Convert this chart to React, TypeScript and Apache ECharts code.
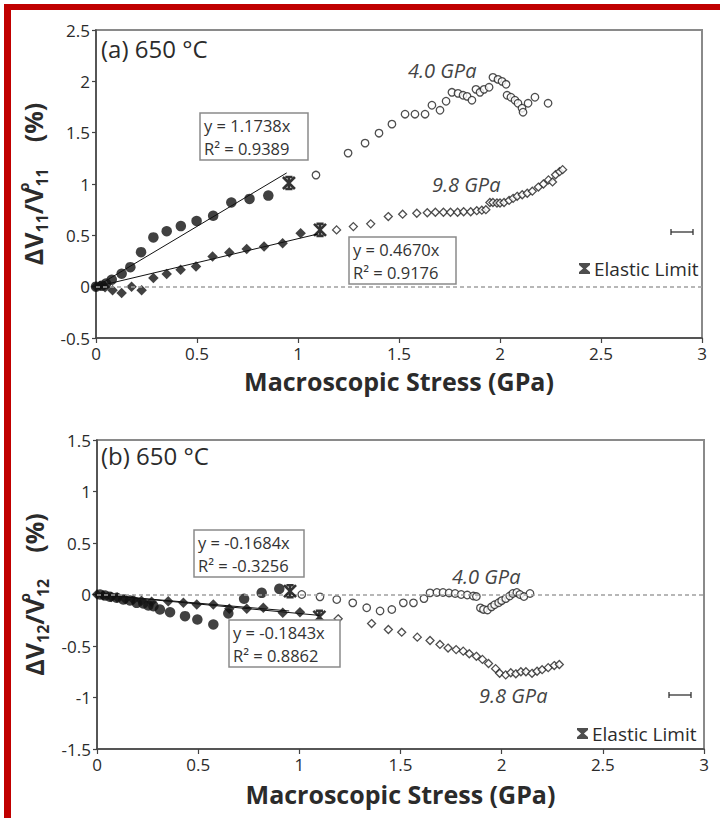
import React, { useEffect, useRef } from "react";
import * as echarts from "echarts";

// ---------- data (GPa, %) ----------
const xMin = 0, xMax = 3, xStep = 0.5;
const topYMin = -0.5, topYMax = 2.5;
const botYMin = -1.5, botYMax = 1.5;

// panel (a): dV11/V11
const a40Filled = [[0.0, 0.0], [0.03, 0.01], [0.05, 0.03], [0.078, 0.068], [0.127, 0.126], [0.17, 0.19], [0.223, 0.336], [0.284, 0.48], [0.35, 0.54], [0.42, 0.59], [0.498, 0.64], [0.58, 0.69], [0.67, 0.82], [0.76, 0.855], [0.853, 0.887]];
const a98Filled = [[0.0, 0.0], [0.02, 0.01], [0.045, -0.005], [0.082, -0.035], [0.127, -0.061], [0.176, 0.0], [0.226, -0.035], [0.284, 0.084], [0.35, 0.123], [0.419, 0.165], [0.495, 0.197], [0.577, 0.294], [0.66, 0.333], [0.746, 0.366], [0.832, 0.392], [0.924, 0.424], [1.013, 0.521]];
const a40Open = [[1.089, 1.087], [1.248, 1.301], [1.332, 1.398], [1.401, 1.495], [1.465, 1.583], [1.53, 1.68], [1.579, 1.68], [1.629, 1.68], [1.663, 1.767], [1.703, 1.718], [1.733, 1.806], [1.762, 1.893], [1.792, 1.883], [1.817, 1.864], [1.837, 1.854], [1.861, 1.816], [1.881, 1.922], [1.901, 1.893], [1.921, 1.922], [1.946, 1.942], [1.965, 2.039], [1.99, 2.019], [2.01, 2.0], [2.03, 1.971], [2.035, 1.864], [2.054, 1.845], [2.074, 1.816], [2.089, 1.786], [2.109, 1.738], [2.114, 1.699], [2.139, 1.786], [2.173, 1.845], [2.238, 1.786]];
const a98Open = [[1.191, 0.553], [1.274, 0.585], [1.36, 0.612], [1.447, 0.683], [1.518, 0.706], [1.588, 0.715], [1.64, 0.72], [1.68, 0.725], [1.72, 0.725], [1.755, 0.725], [1.79, 0.725], [1.82, 0.73], [1.855, 0.73], [1.885, 0.74], [1.91, 0.745], [1.93, 0.75], [1.95, 0.82], [1.965, 0.82], [1.985, 0.815], [2.0, 0.815], [2.02, 0.82], [2.045, 0.84], [2.065, 0.86], [2.085, 0.88], [2.11, 0.895], [2.135, 0.91], [2.16, 0.93], [2.19, 0.97], [2.215, 1.0], [2.24, 1.04], [2.26, 1.02], [2.275, 1.09], [2.295, 1.12], [2.31, 1.14]];
const aElastic = [[0.955, 1.01], [1.109, 0.553]];
const aFit40 = [[0, 0], [0.944, 1.108]];
const aFit98 = [[0, 0], [1.1, 0.514]];

// panel (b): dV12/V12
const b40Filled = [[0.015, 0.0], [0.04, -0.01], [0.064, -0.022], [0.097, -0.032], [0.13, -0.049], [0.163, -0.058], [0.196, -0.081], [0.229, -0.087], [0.254, -0.107], [0.279, -0.113], [0.311, -0.146], [0.361, -0.172], [0.435, -0.21], [0.496, -0.243], [0.575, -0.291], [0.649, -0.184], [0.727, -0.042], [0.814, 0.016], [0.901, 0.055]];
const b98Filled = [[0.0, 0.0], [0.03, -0.01], [0.07, -0.025], [0.1, -0.03], [0.14, -0.045], [0.18, -0.05], [0.22, -0.06], [0.27, -0.07], [0.352, -0.065], [0.427, -0.081], [0.493, -0.097], [0.575, -0.097], [0.654, -0.139], [0.74, -0.139], [0.822, -0.129], [0.918, -0.178], [1.003, -0.172]];
const b40Open = [[1.012, 0.0], [1.102, -0.023], [1.185, -0.049], [1.264, -0.081], [1.333, -0.129], [1.399, -0.16], [1.457, -0.146], [1.514, -0.081], [1.564, -0.081], [1.616, -0.04], [1.646, 0.016], [1.68, 0.02], [1.71, 0.02], [1.74, 0.015], [1.77, 0.01], [1.8, 0.0], [1.83, -0.005], [1.86, -0.015], [1.875, -0.02], [1.895, -0.13], [1.91, -0.145], [1.93, -0.15], [1.95, -0.12], [1.965, -0.1], [1.985, -0.08], [2.0, -0.06], [2.02, -0.04], [2.04, -0.015], [2.055, 0.01], [2.075, 0.02], [2.09, 0.0], [2.11, -0.02], [2.14, 0.01]];
const b98Open = [[1.192, -0.236], [1.357, -0.282], [1.44, -0.34], [1.506, -0.366], [1.583, -0.414], [1.646, -0.447], [1.695, -0.485], [1.735, -0.52], [1.775, -0.535], [1.81, -0.55], [1.84, -0.575], [1.875, -0.6], [1.905, -0.63], [1.935, -0.67], [1.97, -0.72], [1.99, -0.765], [2.02, -0.78], [2.045, -0.76], [2.07, -0.77], [2.095, -0.75], [2.12, -0.75], [2.15, -0.765], [2.175, -0.745], [2.2, -0.73], [2.23, -0.71], [2.26, -0.69], [2.285, -0.68]];
const bElastic = [[0.954, 0.032], [1.099, -0.217]];
const bFit40 = [[0, 0], [0.95, -0.16]];
const bFit98 = [[0, 0], [1.1, -0.203]];

// ---------- texts ----------
const xTitle = "Macroscopic Stress (GPa)";
const panelA = "(a) 650 °C";
const panelB = "(b) 650 °C";
const eqA40 = ["y = 1.1738x", "R² = 0.9389"];
const eqA98 = ["y = 0.4670x", "R² = 0.9176"];
const eqB40 = ["y = -0.1684x", "R² = -0.3256"];
const eqB98 = ["y = -0.1843x", "R² = 0.8862"];
const lbl40 = "4.0 GPa";
const lbl98 = "9.8 GPa";
const elasticName = "Elastic Limit";

const FONT = '"Open Sans", "DejaVu Sans", sans-serif';
const INK = "#2b2b2b";
const starPath = "path://M0,0L10,10M10,0L0,10M5,0L5,10M2,0L8,0M2,10L8,10";
const hourglass = "path://M0,0L10,0L10,1.8L6.3,5L10,8.2L10,10L0,10L0,8.2L3.7,5L0,1.8Z";

function axisPair(gi: number, yMin: number, yMax: number, sub: string, titleGap: number) {
  const lineStyle = { color: "#444", width: 1.5 };
  const x = {
    type: "value", gridIndex: gi, min: xMin, max: xMax, interval: xStep,
    axisLine: { show: true, onZero: false, lineStyle },
    axisTick: { show: true, inside: false, length: 5, lineStyle: { color: "#444", width: 1.2 } },
    axisLabel: { fontSize: 17, color: INK, margin: 7, fontFamily: FONT },
    splitLine: { show: false },
    name: xTitle, nameLocation: "middle", nameGap: titleGap,
    nameTextStyle: { fontSize: 25, fontWeight: "bold", color: INK, fontFamily: FONT },
  };
  const y = {
    type: "value", gridIndex: gi, min: yMin, max: yMax, interval: 0.5,
    axisLine: { show: true, onZero: false, lineStyle },
    axisTick: { show: true, inside: false, length: 4, lineStyle: { color: "#444", width: 1.2 } },
    axisLabel: { fontSize: 17, color: INK, margin: 6, fontFamily: FONT },
    splitLine: { show: false },
    name: `{b|ΔV}{s|${sub}}{b|/V}{o|o}{s|${sub}}{sp| }{b|(%)}`,
    nameLocation: "middle", nameGap: 42, nameRotate: 90,
    nameTextStyle: {
      color: INK, fontFamily: FONT,
      rich: {
        b: { fontSize: 25, fontWeight: "bold", color: INK, fontFamily: FONT, lineHeight: 34 },
        s: { fontSize: 16, fontWeight: "bold", color: INK, fontFamily: FONT, verticalAlign: "bottom", lineHeight: 34 },
        o: { fontSize: 15, fontWeight: "bold", color: INK, fontFamily: FONT, verticalAlign: "top", width: 1, lineHeight: 34 },
        sp: { width: 26 },
      },
    },
  };
  return { x, y };
}

function panelSeries(gi: number, f40: number[][], f98: number[][], o40: number[][], o98: number[][], el: number[][], fit40: number[][], fit98: number[][]) {
  const fitStyle = { color: "#111", width: 1 };
  return [
    {
      type: "line", xAxisIndex: gi, yAxisIndex: gi, data: fit40, showSymbol: false, lineStyle: fitStyle, z: 1,
      markLine: {
        silent: true, symbol: ["none", "none"], label: { show: false },
        lineStyle: { color: "#a0a0a0", type: [4, 3], width: 1.5 },
        data: [{ yAxis: 0 }],
      },
    },
    { type: "line", xAxisIndex: gi, yAxisIndex: gi, data: fit98, showSymbol: false, lineStyle: fitStyle, z: 1 },
    { type: "scatter", xAxisIndex: gi, yAxisIndex: gi, data: o40, symbol: "circle", symbolSize: 7.5, itemStyle: { color: "#fff", borderColor: "#222", borderWidth: 1.3 }, z: 3 },
    { type: "scatter", xAxisIndex: gi, yAxisIndex: gi, data: o98, symbol: "diamond", symbolSize: 8, itemStyle: { color: "#fff", borderColor: "#222", borderWidth: 1.3 }, z: 3 },
    { type: "scatter", xAxisIndex: gi, yAxisIndex: gi, data: f40, symbol: "circle", symbolSize: 10.5, itemStyle: { color: "#111" }, z: 4 },
    { type: "scatter", xAxisIndex: gi, yAxisIndex: gi, data: f98, symbol: "diamond", symbolSize: 10.5, itemStyle: { color: "#111" }, z: 4 },
    { name: elasticName, type: "scatter", xAxisIndex: gi, yAxisIndex: gi, data: el, symbol: starPath, symbolSize: 12, itemStyle: { color: "rgba(0,0,0,0)", borderColor: "#000", borderWidth: 2.6 }, z: 5 },
  ];
}

function errBar(x1: number, x2: number, y: number) {
  const st = { stroke: "#333", lineWidth: 1.3 };
  return [
    { type: "line", shape: { x1, y1: y, x2, y2: y }, style: st },
    { type: "line", shape: { x1, y1: y - 3, x2: x1, y2: y + 3 }, style: st },
    { type: "line", shape: { x1: x2, y1: y - 3, x2, y2: y + 3 }, style: st },
  ];
}

function txt(x: number, y: number, text: string, font: string, fill = INK) {
  return { type: "text", x, y, style: { text, font, fill, verticalAlign: "middle" }, z: 10 };
}

function box(x: number, y: number, w: number, h: number, lines: string[]) {
  const font = `16.5px ${FONT}`;
  return [
    { type: "rect", shape: { x, y, width: w, height: h }, style: { fill: "#fff", stroke: "#8a8a8a", lineWidth: 1.5 }, z: 9 },
    txt(x + 4, y + 12, lines[0], font, "#333"),
    txt(x + 4, y + 35.5, lines[1], font, "#333"),
  ];
}

export default function App() {
  const ref = useRef<HTMLDivElement>(null);
  useEffect(() => {
    if (!ref.current) return;
    const chart = echarts.init(ref.current, null, { renderer: "svg" });
    const A = axisPair(0, topYMin, topYMax, "11", 30);
    const B = axisPair(1, botYMin, botYMax, "12", 32);
    const legendCommon = {
      data: [elasticName], orient: "horizontal", itemWidth: 11, itemHeight: 12, itemGap: 5,
      icon: hourglass, itemStyle: { color: "#222", borderWidth: 0 },
      textStyle: { fontSize: 19, color: INK, fontFamily: FONT, padding: [0, 0, 0, -1] },
      selectedMode: false,
    };
    chart.setOption({
      animation: false,
      backgroundColor: "#fff",
      grid: [
        { left: 96, top: 30, width: 606, height: 308, show: true, borderColor: "#8a8a8a", borderWidth: 2, backgroundColor: "transparent" },
        { left: 97, top: 440, width: 607, height: 309, show: true, borderColor: "#8a8a8a", borderWidth: 2, backgroundColor: "transparent" },
      ],
      xAxis: [A.x, B.x],
      yAxis: [A.y, B.y],
      legend: [
        { ...legendCommon, left: 574, top: 254 },
        { ...legendCommon, left: 572, top: 719 },
      ],
      series: [
        ...panelSeries(0, a40Filled, a98Filled, a40Open, a98Open, aElastic, aFit40, aFit98),
        ...panelSeries(1, b40Filled, b98Filled, b40Open, b98Open, bElastic, bFit40, bFit98),
      ],
      graphic: [
        { type: "rect", shape: { x: 4, y: 4, width: 716, height: 6 }, style: { fill: "#c00000" }, z: 20 },
        { type: "rect", shape: { x: 4, y: 4, width: 7, height: 814 }, style: { fill: "#c00000" }, z: 20 },
        txt(101, 48, panelA, `24px ${FONT}`),
        txt(101, 455, panelB, `24px ${FONT}`),
        ...box(200, 113, 108, 47, eqA40),
        ...box(349, 237, 107, 47, eqA98),
        ...box(194, 530, 110, 47, eqB40),
        ...box(229, 620, 111, 47, eqB98),
        txt(408, 70, lbl40, `italic 20px ${FONT}`, "#444"),
        txt(432, 184, lbl98, `italic 20px ${FONT}`, "#444"),
        txt(452, 576, lbl40, `italic 20px ${FONT}`, "#444"),
        txt(479, 695, lbl98, `italic 20px ${FONT}`, "#444"),
        ...errBar(671, 693, 232),
        ...errBar(669, 691, 695),
      ],
    });
    return () => chart.dispose();
  }, []);
  return (
    <div
      ref={ref}
      style={{ position: "fixed", left: 0, top: 0, width: 720, height: 818, background: "#fff" }}
    />
  );
}
